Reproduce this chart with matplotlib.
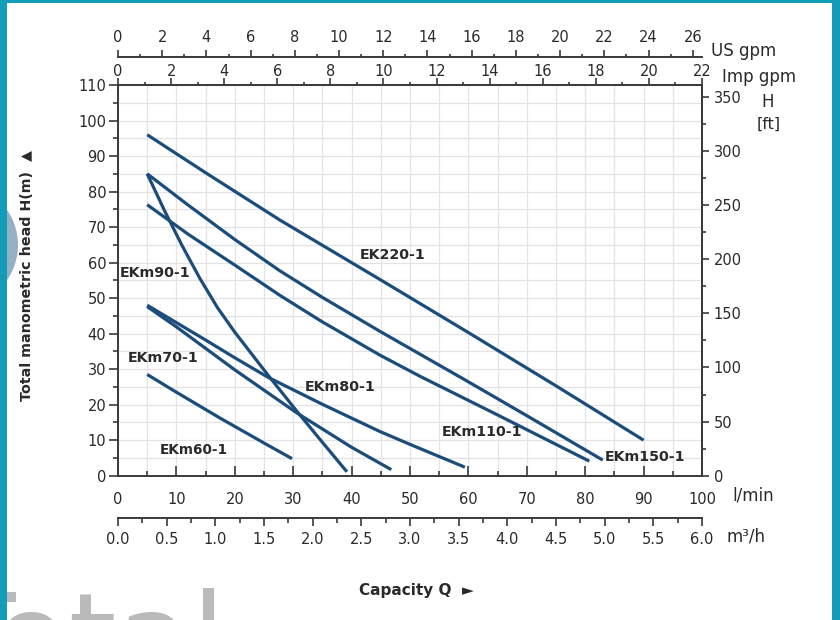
import matplotlib
matplotlib.use('Agg')
import matplotlib.pyplot as plt
from matplotlib.patches import Rectangle, Ellipse
from matplotlib.ticker import MultipleLocator, FormatStrFormatter

# pump curves: capacity Q [l/min] vs head H [m]
q_ek220 = [5, 15, 27.7, 44.9, 60, 75, 90]
h_ek220 = [96, 85.3, 72, 55.2, 40.3, 25.3, 10]

q_ekm150 = [5, 12, 20, 27.7, 35, 44.9, 59.4, 70, 83]
h_ekm150 = [85, 76.2, 66.5, 57.7, 50.2, 40.6, 27, 16.9, 4.4]

q_ekm110 = [5, 12, 20, 27.7, 35, 44.9, 51.7, 65, 80.7]
h_ekm110 = [76.3, 68.0, 59.3, 50.8, 43.3, 33.9, 28.0, 17.1, 4.1]

q_ekm90 = [5, 8, 11, 14, 17, 20, 25.7, 30.6, 35, 39.2]
h_ekm90 = [85, 74.5, 64.7, 55.6, 47.4, 40.4, 28.3, 18.2, 9.4, 1.1]

q_ekm80 = [5, 10, 15, 20, 25.7, 35, 44.9, 50.9, 59.4]
h_ekm80 = [48, 43.1, 38.2, 33.2, 27.7, 20.1, 12.4, 8.2, 2.4]

q_ekm70 = [5, 10, 20, 30.6, 40, 46.8]
h_ekm70 = [47.6, 41.9, 29.8, 17.7, 8.0, 1.7]

q_ekm60 = [5, 10, 17.5, 25, 29.8]
h_ekm60 = [28.5, 23.5, 16.2, 9.2, 4.8]

curves = [(q_ek220, h_ek220), (q_ekm150, h_ekm150), (q_ekm110, h_ekm110),
          (q_ekm90, h_ekm90), (q_ekm80, h_ekm80), (q_ekm70, h_ekm70),
          (q_ekm60, h_ekm60)]

labels = ['EK220-1', 'EKm150-1', 'EKm110-1', 'EKm90-1', 'EKm80-1', 'EKm70-1', 'EKm60-1']
label_x = [41.4, 83.3, 55.4, 0.3, 32.0, 1.7, 7.2]
label_y = [62.2, 5.4, 12.4, 57.0, 25.1, 33.1, 7.2]
label_size = [10.3, 10.3, 10.3, 10.3, 10.3, 10.3, 9.8]

LINE = '#1c4c7a'
SPINE = '#3a3a3a'
TEAL = '#139cb7'
TXT = '#2a2a2a'

W, H = 840, 620
def fx(px):
    return px / W
def fy(py):
    return 1 - py / H

fig = plt.figure(figsize=(8.4, 6.2), dpi=100)
fig.patch.set_facecolor('white')

# faint watermark bits
fig.patches.append(Ellipse((fx(-35), fy(245)), 106 / W, 115 / H, transform=fig.transFigure,
                           facecolor='#3f6f96', edgecolor='none', alpha=0.55, zorder=0))
fig.text(fx(-60), fy(680), 'Total', fontsize=88, color='#bababa', ha='left', va='baseline',
         family='DejaVu Sans', zorder=0)

ax = fig.add_axes([fx(118), fy(475.7), (702 - 118) / W, (475.7 - 85) / H])
ax.set_xlim(0, 100)
ax.set_ylim(0, 110)

for q, h in curves:
    ax.plot(q, h, color=LINE, lw=2.3, solid_joinstyle='round', solid_capstyle='butt', zorder=3)

for txt, x, y, s in zip(labels, label_x, label_y, label_size):
    ax.text(x, y, txt, ha='left', va='center', fontsize=s, fontweight='bold', color=TXT, zorder=4)

# grid every 5
ax.xaxis.set_major_locator(MultipleLocator(10))
ax.xaxis.set_minor_locator(MultipleLocator(5))
ax.yaxis.set_major_locator(MultipleLocator(10))
ax.yaxis.set_minor_locator(MultipleLocator(5))
ax.grid(which='both', color='#e3e3e3', lw=0.9, zorder=0)
ax.set_axisbelow(True)

for sp in ax.spines.values():
    sp.set_color(SPINE)
    sp.set_linewidth(1.4)

ax.tick_params(axis='x', which='both', direction='in', top=False, colors=SPINE,
               labelcolor=TXT, labelsize=10.5, pad=11.5, width=1.2)
ax.tick_params(axis='x', which='major', length=7.2)
ax.tick_params(axis='x', which='minor', length=3.6)
ax.tick_params(axis='y', which='both', direction='out', right=False, colors=SPINE,
               labelcolor=TXT, labelsize=10.5, pad=2, width=1.2)
ax.tick_params(axis='y', which='major', length=6.5)
ax.tick_params(axis='y', which='minor', length=3.6)

# Imp gpm (top spine), 22 Imp gpm = 100 l/min
IMP = 100 / 22
imp = ax.secondary_xaxis('top', functions=(lambda q: q / IMP, lambda g: g * IMP))
imp.xaxis.set_major_locator(MultipleLocator(2))
imp.xaxis.set_minor_locator(MultipleLocator(1))
imp.tick_params(which='both', direction='out', colors=SPINE, labelcolor=TXT,
                labelsize=10.5, pad=-0.8, width=1.2)
imp.tick_params(which='major', length=5)
imp.tick_params(which='minor', length=2.5)
imp.spines['top'].set_color(SPINE)
imp.spines['top'].set_linewidth(1.4)

# US gpm (above)
us = ax.secondary_xaxis((475.7 - 57.3) / (475.7 - 85), functions=(lambda q: q / 3.785, lambda g: g * 3.785))
us.xaxis.set_major_locator(MultipleLocator(2))
us.xaxis.set_minor_locator(MultipleLocator(1))
us.tick_params(which='both', direction='out', colors=SPINE, labelcolor=TXT,
               labelsize=10.5, pad=3.5, width=1.2)
us.tick_params(which='major', length=5)
us.tick_params(which='minor', length=2.5)
us.spines['top'].set_color(SPINE)
us.spines['top'].set_linewidth(1.4)

# m3/h (below)
m3 = ax.secondary_xaxis(-(517.5 - 475.7) / (475.7 - 85), functions=(lambda q: q * 0.06, lambda m: m / 0.06))
m3.xaxis.set_major_locator(MultipleLocator(0.5))
m3.xaxis.set_minor_locator(MultipleLocator(0.25))
m3.xaxis.set_major_formatter(FormatStrFormatter('%.1f'))
m3.tick_params(which='both', direction='out', colors=SPINE, labelcolor=TXT,
               labelsize=10.5, pad=4.5, width=1.2)
m3.tick_params(which='major', length=6)
m3.tick_params(which='minor', length=3.5)
m3.spines['bottom'].set_color(SPINE)
m3.spines['bottom'].set_linewidth(1.4)

# head in feet (right)
ft = ax.secondary_yaxis('right', functions=(lambda h: h * 3.2808, lambda f: f / 3.2808))
ft.yaxis.set_major_locator(MultipleLocator(50))
ft.yaxis.set_minor_locator(MultipleLocator(25))
ft.tick_params(which='both', direction='out', colors=SPINE, labelcolor=TXT,
               labelsize=10.5, pad=3.5, width=1.2)
ft.tick_params(which='major', length=5)
ft.tick_params(which='minor', length=3)
ft.spines['right'].set_color(SPINE)
ft.spines['right'].set_linewidth(1.4)

# unit labels
fig.text(fx(711), fy(55.5), 'US gpm', fontsize=12, color=TXT, ha='left', va='baseline')
fig.text(fx(722), fy(81.7), 'Imp gpm', fontsize=12, color=TXT, ha='left', va='baseline')
fig.text(fx(768), fy(106.7), 'H', fontsize=12, color=TXT, ha='center', va='baseline')
fig.text(fx(769), fy(129), '[ft]', fontsize=11.5, color=TXT, ha='center', va='baseline')
fig.text(fx(732), fy(500), 'l/min', fontsize=12, color=TXT, ha='left', va='baseline')
fig.text(fx(727), fy(541.7), 'm³/h', fontsize=12, color=TXT, ha='left', va='baseline')

# axis titles
fig.text(fx(27), fy(275), 'Total manometric head H(m)  \u25B2', rotation=90, fontsize=10.3,
         fontweight='bold', color=TXT, ha='center', va='center')
fig.text(fx(416), fy(590), 'Capacity Q  \u25BA', fontsize=11, fontweight='bold', color=TXT,
         ha='center', va='center')

# teal frame
for x0, y0, w, h in [(0, 0, 7, 620), (0, 0, 840, 3), (832, 0, 8, 620)]:
    fig.patches.append(Rectangle((fx(x0), fy(y0 + h)), w / W, h / H, transform=fig.transFigure,
                                 facecolor=TEAL, edgecolor='none', zorder=10))

fig.savefig('out.png', dpi=100, facecolor='white')
